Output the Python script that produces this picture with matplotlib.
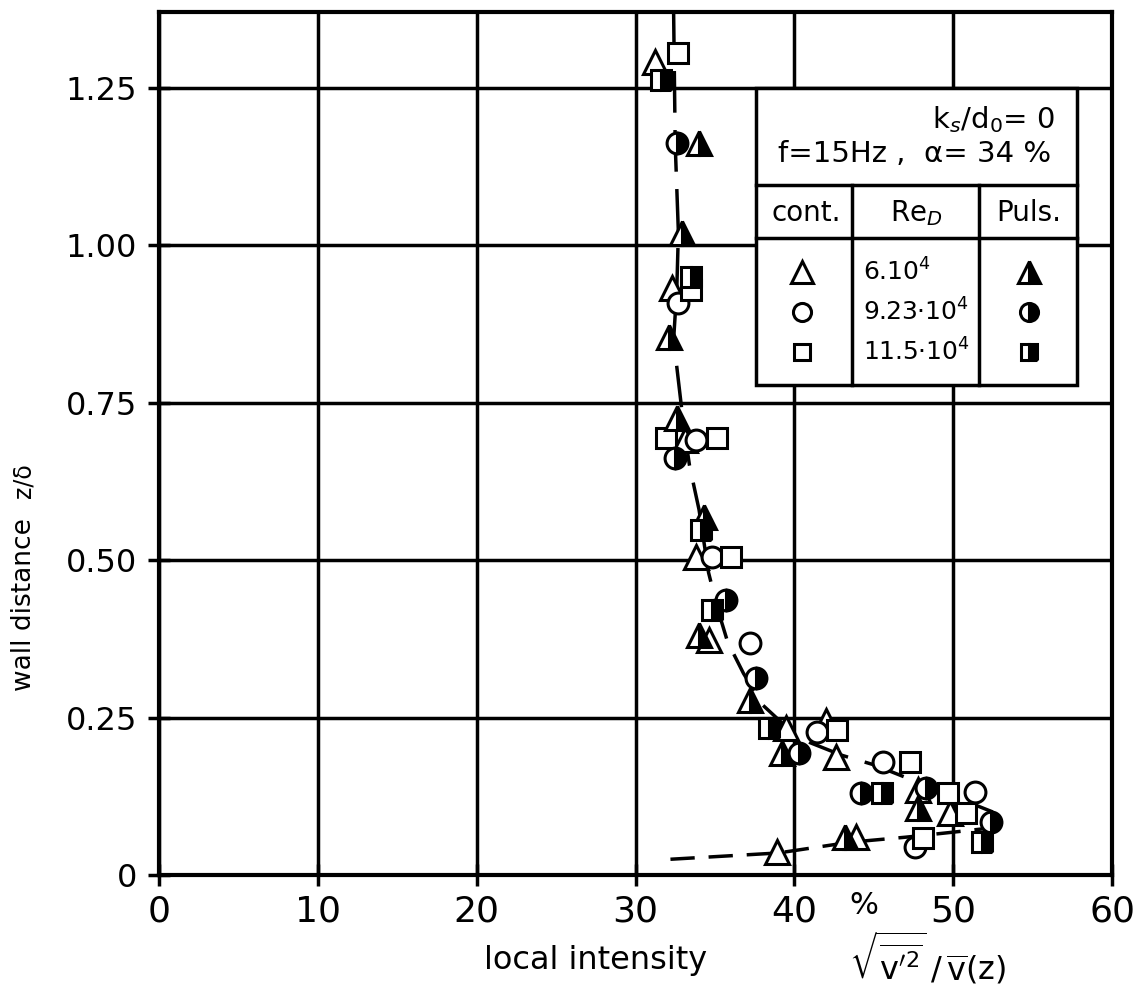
import matplotlib
matplotlib.use("Agg")
import matplotlib.pyplot as plt
from matplotlib.patches import Rectangle
from matplotlib.transforms import blended_transform_factory

# ---------------- data ----------------
x_ticks = [0, 10, 20, 30, 40, 50, 60]
y_ticks = [0, 0.25, 0.50, 0.75, 1.00, 1.25]
y_tick_labels = ["0", "0.25", "0.50", "0.75", "1.00", "1.25"]

# continuous flow (open symbols)
cont_tri_x = [31.2, 32.3, 33.1, 33.8, 34.6, 39.5, 42.0, 42.6, 47.8, 49.8, 43.9, 38.9]
cont_tri_y = [1.291, 0.932, 0.690, 0.505, 0.373, 0.233, 0.245, 0.187, 0.135, 0.098, 0.060, 0.037]
cont_circ_x = [32.7, 33.8, 34.8, 37.2, 41.4, 45.6, 51.4, 47.6]
cont_circ_y = [0.908, 0.690, 0.505, 0.368, 0.227, 0.179, 0.132, 0.045]
cont_sq_x = [32.7, 33.5, 31.9, 35.1, 36.0, 42.7, 47.3, 49.7, 50.8, 48.1]
cont_sq_y = [1.305, 0.929, 0.694, 0.694, 0.505, 0.230, 0.179, 0.130, 0.098, 0.059]

# pulsating flow (half filled symbols)
puls_tri_x = [34.0, 32.9, 32.1, 32.6, 34.3, 34.0, 37.2, 39.2, 47.8, 43.2]
puls_tri_y = [1.162, 1.019, 0.854, 0.725, 0.568, 0.381, 0.278, 0.194, 0.106, 0.060]
puls_circ_x = [32.6, 32.5, 35.7, 37.6, 40.3, 44.2, 48.3, 52.4]
puls_circ_y = [1.162, 0.662, 0.437, 0.313, 0.194, 0.130, 0.138, 0.084]
puls_sq_x = [31.6, 33.5, 34.1, 34.8, 38.4, 45.5, 51.8]
puls_sq_y = [1.262, 0.949, 0.548, 0.421, 0.233, 0.130, 0.052]

# hand drawn mean curves
curve_up_x = [32.4, 32.5, 32.7, 32.6, 32.4, 33.0, 33.4, 34.0, 34.3, 34.6, 35.2, 35.8,
              36.8, 38.0, 39.5, 41.0, 43.0, 45.0, 47.0, 49.0, 51.0, 52.5]
curve_up_y = [1.37, 1.16, 1.02, 0.93, 0.85, 0.72, 0.65, 0.58, 0.53, 0.48, 0.42, 0.37,
              0.32, 0.27, 0.235, 0.21, 0.19, 0.175, 0.155, 0.135, 0.115, 0.10]
curve_low_x = [32.2, 39.0, 43.5, 47.0, 50.0, 52.5]
curve_low_y = [0.025, 0.035, 0.052, 0.060, 0.068, 0.075]

legend_re = ["6.10$^4$", "9.23·10$^4$", "11.5·10$^4$"]

# ---------------- figure ----------------
W, H = 1141, 992
fig = plt.figure(figsize=(W / 100, H / 100), dpi=100)
L, R, B, T = 159, 1112, 875, 12
ax = fig.add_axes([L / W, 1 - B / H, (R - L) / W, (B - T) / H])
ax.set_xlim(0, 60)
ax.set_ylim(0, 1.37)

for s in ax.spines.values():
    s.set_linewidth(3)
ax.set_xticks(x_ticks)
ax.set_xticklabels([str(v) for v in x_ticks], fontsize=26)
ax.set_yticks(y_ticks)
ax.set_yticklabels(y_tick_labels, fontsize=23)
ax.tick_params(direction='inout', length=16, width=2.5, pad=6)
ax.tick_params(axis='y', pad=8)
ax.grid(True, color='black', linewidth=2.5)
ax.set_axisbelow(True)

# curves
ax.plot(curve_up_x, curve_up_y, color='black', lw=2.5, dashes=(12, 5), zorder=2)
ax.plot(curve_low_x, curve_low_y, color='black', lw=2.5, dashes=(7, 4), zorder=2)

mk = dict(linestyle='none', markeredgecolor='black', markeredgewidth=2.2, zorder=3)
ax.plot(cont_tri_x, cont_tri_y, marker='^', ms=17, markerfacecolor='white', **mk)
ax.plot(cont_circ_x, cont_circ_y, marker='o', ms=15, markerfacecolor='white', **mk)
ax.plot(cont_sq_x, cont_sq_y, marker='s', ms=14, markerfacecolor='white', **mk)
half = dict(fillstyle='right', markerfacecolor='black', markerfacecoloralt='white')
ax.plot(puls_tri_x, puls_tri_y, marker='^', ms=17, **half, **mk)
ax.plot(puls_circ_x, puls_circ_y, marker='o', ms=15, **half, **mk)
ax.plot(puls_sq_x, puls_sq_y, marker='s', ms=14, **half, **mk)

# ---------------- legend table ----------------
bx0, bx1, by0, by1 = 37.6, 57.8, 0.778, 1.25
ax.add_patch(Rectangle((bx0, by0), bx1 - bx0, by1 - by0, facecolor='white',
                       edgecolor='black', lw=2.5, zorder=5))
ax.plot([bx0, bx1], [1.096, 1.096], color='black', lw=2.5, zorder=6)
ax.plot([bx0, bx1], [1.012, 1.012], color='black', lw=2.5, zorder=6)
for cx in (43.65, 51.65):
    ax.plot([cx, cx], [by0, 1.096], color='black', lw=2.5, zorder=6)
ax.text(56.4, 1.199, "k$_s$/d$_0$= 0", fontsize=21, ha='right', va='center', zorder=7)
ax.text(47.6, 1.144, "f=15Hz ,  α= 34 %", fontsize=21, ha='center', va='center', zorder=7)
ax.text(40.75, 1.051, "cont.", fontsize=20, ha='center', va='center', zorder=7)
ax.text(47.7, 1.051, "Re$_D$", fontsize=20, ha='center', va='center', zorder=7)
ax.text(54.75, 1.051, "Puls.", fontsize=20, ha='center', va='center', zorder=7)
rows_y = [0.958, 0.894, 0.831]
for m, ry, lab, ms in zip(['^', 'o', 's'], rows_y, legend_re, [16, 13, 12]):
    ax.plot([40.5], [ry], marker=m, ms=ms, markerfacecolor='white', linestyle='none',
            markeredgecolor='black', markeredgewidth=2.2, zorder=7)
    ax.plot([54.8], [ry], marker=m, ms=ms, linestyle='none', markeredgecolor='black',
            markeredgewidth=2.2, zorder=7, **half)
    ax.text(44.3, ry, lab, fontsize=18, ha='left', va='center', zorder=7)

# ---------------- labels ----------------
trans = blended_transform_factory(ax.transData, fig.transFigure)
ax.text(44.4, 1 - 905 / H, "%", fontsize=22, ha='center', va='center', transform=trans)
fig.text(596 / W, 1 - 960 / H, "local intensity", fontsize=23, ha='center', va='center')
fig.text(927 / W, 1 - 958 / H, r"$\sqrt{\overline{\mathrm{v}'^2}}\,/\,\overline{\mathrm{v}}\mathrm{(z)}$",
         fontsize=23, ha='center', va='center')
fig.text(24 / W, 1 - 605 / H, "wall distance", fontsize=19, rotation=90,
         ha='center', va='center')
fig.text(24 / W, 1 - 481 / H, "z/δ", fontsize=17, rotation=90, ha='center', va='center')

fig.savefig("out.png", dpi=100, facecolor='white')
